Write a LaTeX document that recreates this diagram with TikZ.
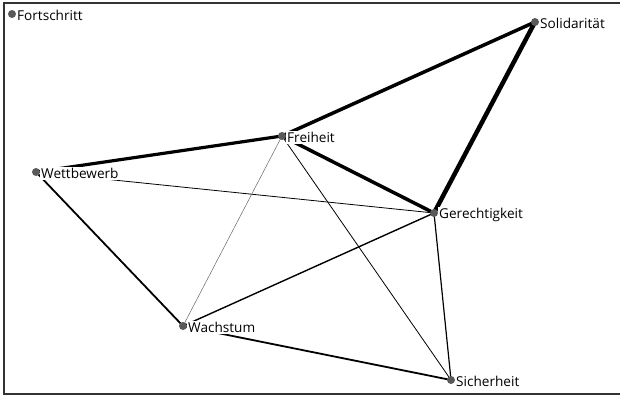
\documentclass[tikz,border=0pt]{standalone}
\usepackage{fontspec}
\setmainfont{Open Sans}
\usetikzlibrary{backgrounds}

\tikzset{
  dot/.style={circle,fill=black!65,inner sep=0pt,minimum size=8pt,label distance=-2pt},
  every label/.append style={font=\fontsize{13.6}{15}\selectfont,inner sep=0.8pt,fill=white,yshift=-1.5pt},
  tie/.style={line cap=round,draw=black}
}

\begin{document}
\begin{tikzpicture}[x=1pt,y=-1pt]
\useasboundingbox (0,0) rectangle (620,396);
\draw[black!80,line width=1.2pt] (622,3) -- (4,3) -- (4,394) -- (622,394);
\draw[black!80,line width=1pt] (4,394.5) -- (622,394.5);
\node[dot,label=right:Fortschritt] (fo) at (12,14) {};
\node[dot,label=right:Solidarität] (so) at (535,22) {};
\node[dot,label=right:Freiheit] (fr) at (282,136) {};
\node[dot,label=right:Wettbewerb] (we) at (36,172) {};
\node[dot,label=right:Gerechtigkeit] (ge) at (434,213) {};
\node[dot,label=right:Wachstum] (wa) at (183,326) {};
\node[dot,label=right:Sicherheit] (si) at (451,380) {};
\begin{pgfonlayer}{background}
% starke Verbindungen
\draw[tie,line width=3.5pt] (fr.center) -- (so.center);
\draw[tie,line width=4.5pt] (ge.center) -- (so.center);
\draw[tie,line width=3.2pt] (fr.center) -- (we.center);
\draw[tie,line width=3.5pt] (fr.center) -- (ge.center);
% schwache Verbindungen
\draw[tie,line width=0.8pt] (we.center) -- (ge.center);
\draw[tie,line width=1.8pt] (we.center) -- (wa.center);
\draw[tie,draw=black!60,line width=0.5pt] (fr.center) -- (wa.center);
\draw[tie,line width=0.8pt] (fr.center) -- (si.center);
\draw[tie,line width=1.4pt] (wa.center) -- (ge.center);
\draw[tie,line width=1.8pt] (wa.center) -- (si.center);
\draw[tie,line width=1.2pt] (ge.center) -- (si.center);
\end{pgfonlayer}
\end{tikzpicture}
\end{document}
